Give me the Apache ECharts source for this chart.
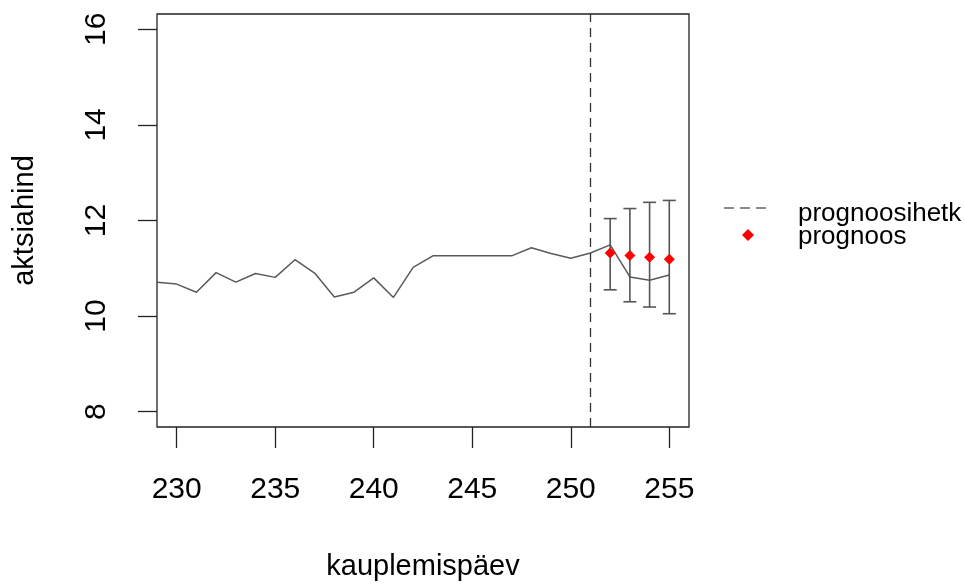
<!DOCTYPE html>
<html>
<head>
<meta charset="utf-8">
<script src="https://cdn.jsdelivr.net/npm/echarts@6/dist/echarts.min.js"></script>
<style>
html,body{margin:0;padding:0;background:#fff;}
#chart{width:965px;height:586px;}
</style>
</head>
<body>
<div id="chart"></div>
<script>
// ---- data ----
const days = [229,230,231,232,233,234,235,236,237,238,239,240,241,242,243,244,245,246,247,248,249,250,251,252,253,254,255];
const price = [10.71,10.67,10.50,10.91,10.71,10.89,10.81,11.18,10.90,10.40,10.50,10.80,10.39,11.02,11.26,11.26,11.26,11.26,11.26,11.43,11.31,11.21,11.32,11.49,10.82,10.75,10.86];
const forecastDays = [252,253,254,255];
const forecast = [11.32,11.27,11.23,11.19];
const lower = [10.55,10.30,10.19,10.05];
const upper = [12.04,12.25,12.38,12.42];
const forecastMoment = 251;
const xTicks = [230,235,240,245,250,255];
const yTicks = [8,10,12,14,16];
const xTitle = 'kauplemispäev';
const yTitle = 'aktsiahind';
const legendNames = ['prognoosihetk','prognoos'];

const FONT = "'Liberation Sans', Arial, sans-serif";
const chart = echarts.init(document.getElementById('chart'), null, {renderer:'canvas'});

const option = {
  backgroundColor:'#ffffff',
  animation:false,
  textStyle:{fontFamily:FONT, color:'#000'},
  grid:{left:157, top:14, width:532, height:413.5, show:true, borderColor:'#222', borderWidth:1.3, backgroundColor:'transparent'},
  xAxis:{
    type:'value', min:229, max:256,
    name:xTitle, nameLocation:'middle', nameGap:125,
    nameTextStyle:{fontSize:29, color:'#000', fontFamily:FONT},
    axisLine:{show:false},
    splitLine:{show:false},
    axisTick:{show:true, length:21, inside:false, customValues:xTicks, lineStyle:{color:'#222', width:1.3}},
    axisLabel:{fontSize:30, color:'#000', margin:48, customValues:xTicks, fontFamily:FONT}
  },
  yAxis:{
    type:'value', min:7.68, max:16.32,
    name:yTitle, nameLocation:'middle', nameGap:118, nameRotate:90,
    nameTextStyle:{fontSize:29, color:'#000', fontFamily:FONT},
    axisLine:{show:false},
    splitLine:{show:false},
    axisTick:{show:true, length:19, inside:false, customValues:yTicks, lineStyle:{color:'#222', width:1.3}},
    axisLabel:{fontSize:30, color:'#000', margin:45, rotate:90, customValues:yTicks, fontFamily:FONT}
  },
  graphic:[
    {type:'line', shape:{x1:724, y1:208, x2:767, y2:208}, style:{stroke:'#666', lineWidth:1.6, lineDash:[10,6]}},
    {type:'polygon', shape:{points:[[748,229],[754,235],[748,241],[742,235]]}, style:{fill:'#ff0000'}},
    {type:'text', left:798, top:null, x:798, y:213.5, style:{text:legendNames[0], fontSize:26, fontFamily:FONT, fill:'#000', verticalAlign:'middle', align:'left'}},
    {type:'text', x:798, y:236.5, style:{text:legendNames[1], fontSize:26, fontFamily:FONT, fill:'#000', verticalAlign:'middle', align:'left'}}
  ],
  series:[
    {
      name:'hind', type:'line', data:days.map((d,i)=>[d,price[i]]),
      showSymbol:false, symbol:'none', lineStyle:{color:'#5a5a5a', width:1.5}, z:3
    },
    {
      name:legendNames[0], type:'line', data:[], symbol:'none',
      markLine:{
        silent:true, symbol:['none','none'], label:{show:false},
        lineStyle:{color:'#333', width:1.3, type:[9,6]},
        data:[{xAxis:forecastMoment}]
      }
    },
    {
      name:'vahemik', type:'custom',
      data:forecastDays.map((d,i)=>[d,lower[i],upper[i]]),
      renderItem:function(params, api){
        const x = api.value(0);
        const lo = api.coord([x, api.value(1)]);
        const hi = api.coord([x, api.value(2)]);
        const hw = 6.5;
        const st = {stroke:'#555', lineWidth:1.6};
        return {type:'group', children:[
          {type:'line', shape:{x1:lo[0],y1:lo[1],x2:hi[0],y2:hi[1]}, style:st},
          {type:'line', shape:{x1:hi[0]-hw,y1:hi[1],x2:hi[0]+hw,y2:hi[1]}, style:st},
          {type:'line', shape:{x1:lo[0]-hw,y1:lo[1],x2:lo[0]+hw,y2:lo[1]}, style:st}
        ]};
      },
      z:4
    },
    {
      name:legendNames[1], type:'scatter', data:forecastDays.map((d,i)=>[d,forecast[i]]),
      symbol:'diamond', symbolSize:[11,11], itemStyle:{color:'#ff0000', opacity:1}, z:5
    }
  ]
};
chart.setOption(option);
</script>
</body>
</html>
